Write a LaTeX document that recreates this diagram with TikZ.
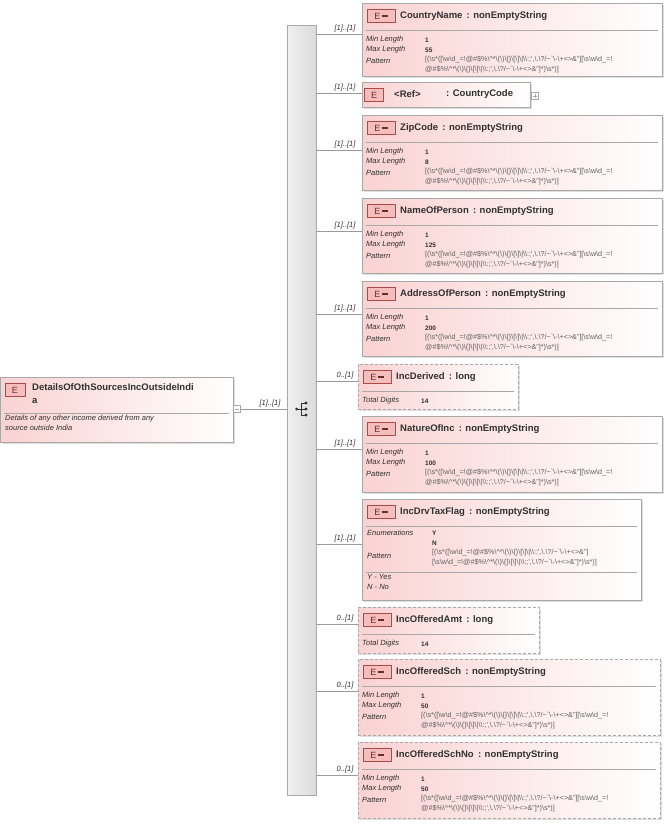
\documentclass[tikz,border=0pt]{standalone}
\usepackage{fontspec}
\setmainfont{Liberation Sans}
\usetikzlibrary{shadows,calc}
\definecolor{bord}{HTML}{A8A8A8}
\definecolor{pinkf}{HTML}{FAD2D2}
\definecolor{badgeb}{HTML}{B04848}
\definecolor{badgef}{HTML}{F6BDBD}
\definecolor{txt}{HTML}{303030}
\definecolor{pat}{HTML}{606060}
\def\bs{\textbackslash}
\newcommand\pchars{\bs w\bs d\_=!@\#\$\%\bs\textasciicircum*\bs(\bs)\bs\{\}\bs[\bs]\bs|\bs\bs:;\textquotesingle,\bs.\bs?/\textasciitilde\textasciigrave\bs-\bs+<>\&"}
\newcommand\pchb{@\#\$\%\bs\textasciicircum*\bs(\bs)\bs\{\}\bs[\bs]\bs|\bs\bs:;\textquotesingle,\bs.\bs?/\textasciitilde\textasciigrave\bs-\bs+<>\&"}
\newcommand\patA{[(\bs s*([\pchars][\bs s\bs w\bs d\_=!}
\newcommand\patB{\pchb]*)\bs s*)]}
\tikzset{x=1pt,y=-1pt,
 ebox/.style={draw=bord,anchor=north west,left color=pinkf,right color=white,inner sep=0,
   drop shadow={opacity=0.25,shadow xshift=2pt,shadow yshift=-2pt}},
 opt/.style={dashed,dash pattern=on 3pt off 2pt},
 badge/.style={draw=badgeb,fill=badgef,minimum height=13pt,inner sep=1pt,font=\fontsize{9}{9}\selectfont,text=badgeb!60!black},
 ttl/.style={anchor=west,inner sep=0,font=\bfseries\fontsize{9.5}{11}\selectfont,text=txt},
 lbl/.style={anchor=west,inner sep=0,font=\itshape\fontsize{7.5}{8}\selectfont,text=txt},
 val/.style={anchor=west,inner sep=0,font=\bfseries\fontsize{6.5}{8}\selectfont,text=txt},
 pv/.style={anchor=north west,inner sep=0,font=\fontsize{7.2}{10}\selectfont,text=pat,align=left},
 mult/.style={inner sep=0,font=\itshape\fontsize{7.5}{8}\selectfont,text=txt},
 sep/.style={draw=bord},
 conn/.style={draw=gray!80,line width=0.6pt}}
\newcommand\dashbar{\,\raisebox{2.5pt}{\rule{6pt}{1.6pt}}}
% name,x,y,w,h,style,lineoff,title,mult
\newcommand\elem[9]{%
 \node[ebox,#6,minimum width=#4pt,minimum height=#5pt] (#1) at (#2,#3) {};
 \node[badge,minimum width=28pt] (#1b) at (#2+19,#3+13) {E\dashbar};
 \node[ttl] (#1t) at (#2+38,#3+13) {#8};
 \draw[sep] (#2+4,#3+27) -- (#2+#4-4,#3+27);
 \coordinate (#1c) at (316,#3+#7);
 \draw[conn] (#1c) -- (#1c -| #1.west);
 \node[mult] (#1m) at (345,#3+#7-5) {#9};
}
\newcommand\lens[5]{%
 \node[lbl] (#1l1) at (#2+4,#3+37) {Min Length};
 \node[val] (#1v1) at (#2+63,#3+37) {#4};
 \node[lbl] (#1l2) at (#2+4,#3+47) {Max Length};
 \node[val] (#1v2) at (#2+63,#3+47) {#5};
 \node[lbl] (#1l3) at (#2+4,#3+58) {Pattern};
 \node[pv] (#1p) at (#2+63,#3+53) {\patA\\\relax\patB};
}
\newcommand\digits[3]{%
 \node[lbl] (#1l1) at (#2+4,#3+37) {Total Digits};
 \node[val] (#1v1) at (#2+63,#3+37) {14};
}
\begin{document}
\begin{tikzpicture}
\useasboundingbox (0,0) rectangle (669,824);
% sequence bar
\node[draw=bord,left color=gray!12,right color=gray!28,anchor=north west,minimum width=29pt,minimum height=770pt,inner sep=0] (bar) at (287,25) {};
% seq icon
\fill[txt] (296.5,409) circle (1.5);
\draw[txt,line width=0.7pt] (296.5,409) -- (301,409) (301,403) -- (301,415) (301,403) -- (305,403) (301,409) -- (305,409) (301,415) -- (305,415);
\fill[txt] (306,403) circle (1.6) (306,409) circle (1.6) (306,415) circle (1.6);
% root
\node[ebox,minimum width=233pt,minimum height=65pt] (root) at (0,377) {};
\node[badge,minimum width=20pt] (rootb) at (15,390) {E};
\node[ttl,align=left,anchor=north west,font=\bfseries\fontsize{9.5}{13}\selectfont] (roott) at (32,383) {DetailsOfOthSourcesIncOutsideIndi\\a};
\draw[sep] (4,413) -- (229,413);
\node[lbl,anchor=north west,align=left,font=\itshape\fontsize{7.5}{10}\selectfont] (rootd) at (5,415) {Details of any other income derived from any\\source outside India};
\node[draw=bord,fill=white,minimum size=7pt,inner sep=0] (rminus) at (237,409) {};
\draw[bord] (235,409) -- (239,409);
\draw[conn] (rminus.east) -- (rminus.east -| bar.west);
\node[mult] (rootm) at (270,404) {[1]..[1]};
% children
\elem{cn}{362}{3}{300}{73}{}{31}{CountryName \,: nonEmptyString}{[1]..[1]}
\lens{cn}{362}{3}{1}{55}
% ref
\node[ebox,minimum width=168pt,minimum height=25pt] (ref) at (362,82) {};
\node[badge,minimum width=19pt] (refb) at (374,95) {E};
\node[ttl] (reft) at (394,94) {<Ref>};
\node[ttl] (reft2) at (446,94) {: CountryCode};
\node[draw=bord,fill=white,minimum size=7pt,inner sep=0] (refplus) at (535,96) {};
\draw[bord] (533,96) -- (537,96) (535,94) -- (535,98);
\coordinate (refc) at (316,93);
\draw[conn] (refc) -- (refc -| ref.west);
\node[mult] (refm) at (345,88) {[1]..[1]};
\elem{zc}{362}{115}{300}{75}{}{35}{ZipCode \,: nonEmptyString}{[1]..[1]}
\lens{zc}{362}{115}{1}{8}
\elem{np}{362}{198}{300}{75}{}{33}{NameOfPerson \,: nonEmptyString}{[1]..[1]}
\lens{np}{362}{198}{1}{125}
\elem{ap}{362}{281}{300}{75}{}{33}{AddressOfPerson \,: nonEmptyString}{[1]..[1]}
\lens{ap}{362}{281}{1}{200}
\elem{id}{358}{364}{160}{45}{opt}{17}{IncDerived \,: long}{0..[1]}
\digits{id}{358}{364}
\elem{ni}{362}{416}{300}{76}{}{33}{NatureOfInc \,: nonEmptyString}{[1]..[1]}
\lens{ni}{362}{416}{1}{100}
\elem{tf}{362}{499}{279}{101}{}{45}{IncDrvTaxFlag \,: nonEmptyString}{[1]..[1]}
\node[lbl] (tfl1) at (367,533) {Enumerations};
\node[val] (tfv1) at (432,533) {Y};
\node[val] (tfv2) at (432,543) {N};
\node[lbl] (tfl2) at (367,556) {Pattern};
\node[pv] (tfp) at (432,549) {[(\bs s*([\pchars]\\\relax[\bs s\pchars]*)\bs s*)]};
\draw[sep] (366,572) -- (637,572);
\node[lbl,anchor=north west,align=left,font=\itshape\fontsize{7.5}{10}\selectfont] (tfd) at (367,574) {Y - Yes\\N - No};
\elem{oa}{358}{607}{181}{46}{opt}{17}{IncOfferedAmt \,: long}{0..[1]}
\digits{oa}{358}{607}
\elem{os}{358}{659}{302}{76}{opt}{32}{IncOfferedSch \,: nonEmptyString}{0..[1]}
\lens{os}{358}{659}{1}{50}
\elem{on}{358}{742}{302}{76}{opt}{33}{IncOfferedSchNo \,: nonEmptyString}{0..[1]}
\lens{on}{358}{742}{1}{50}
\end{tikzpicture}
\end{document}
